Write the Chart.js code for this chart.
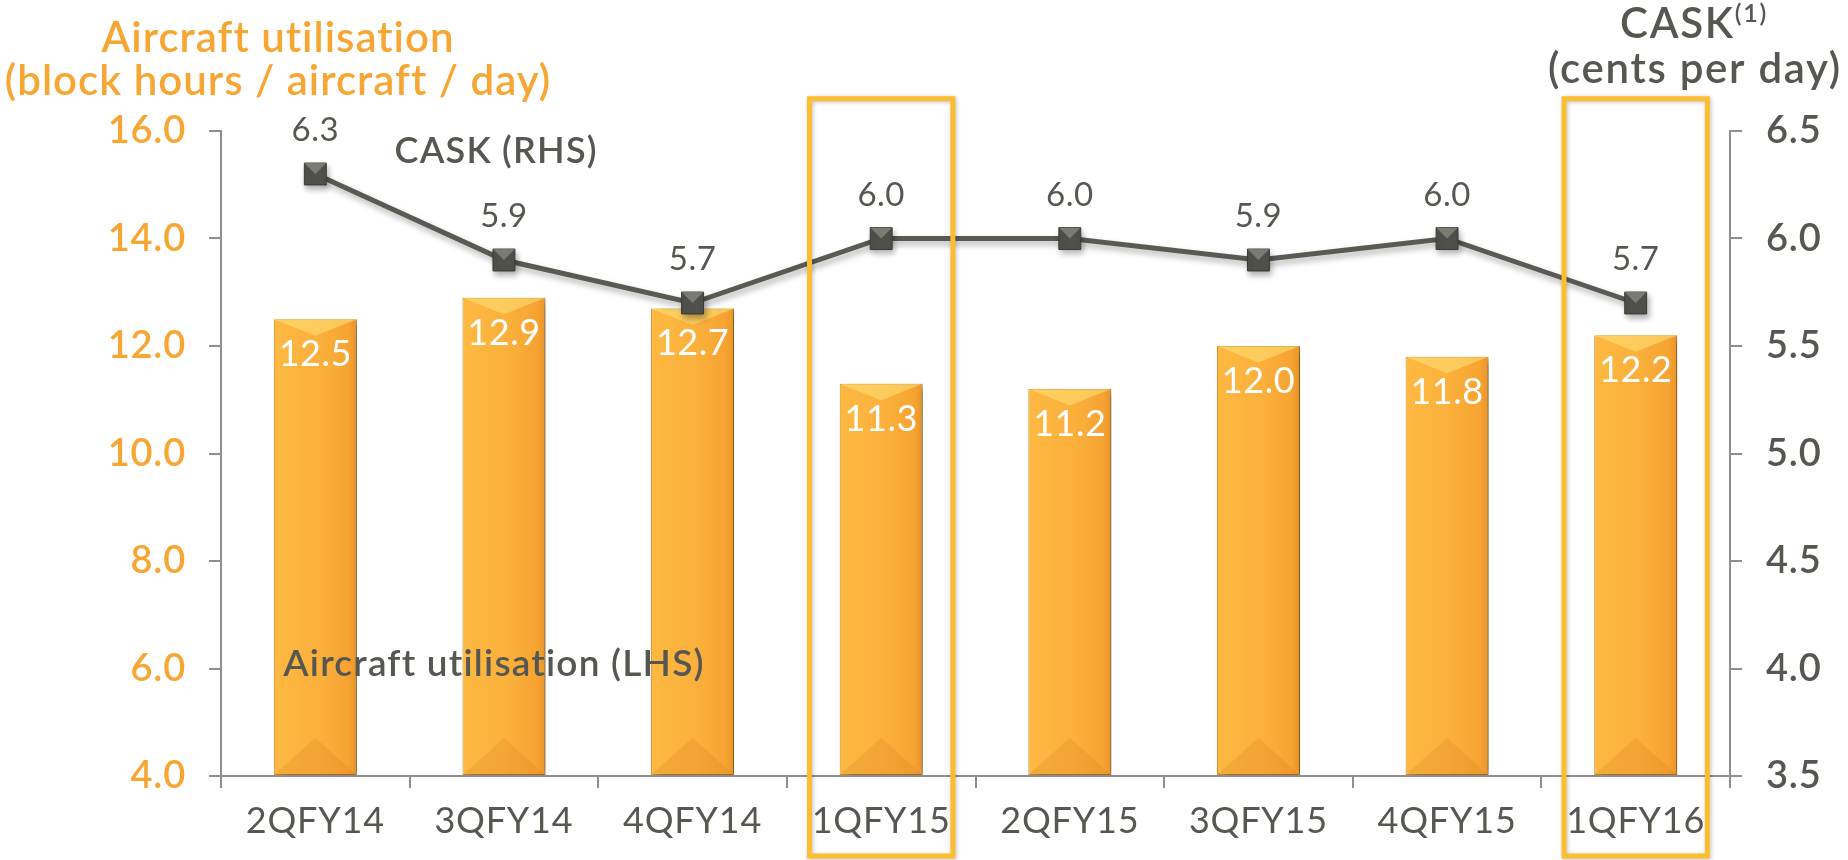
<!DOCTYPE html>
<html><head><meta charset="utf-8">
<script src="https://cdn.jsdelivr.net/npm/chart.js@4"></script>
<style>html,body{margin:0;padding:0;background:#fff;overflow:hidden}</style>
</head><body>
<canvas id="c" width="1848" height="860"></canvas>
<script>
const categories = ['2QFY14','3QFY14','4QFY14','1QFY15','2QFY15','3QFY15','4QFY15','1QFY16'];
const utilisation = [12.5, 12.9, 12.7, 11.3, 11.2, 12.0, 11.8, 12.2];
const cask = [6.3, 5.9, 5.7, 6.0, 6.0, 5.9, 6.0, 5.7];
const leftTicks = [4, 6, 8, 10, 12, 14, 16];
const rightTicks = [3.5, 4.0, 4.5, 5.0, 5.5, 6.0, 6.5];
const highlighted = ['1QFY15', '1QFY16'];
const leftTitle = ['Aircraft utilisation', '(block hours / aircraft / day)'];
const rightTitle = ['CASK', '(1)', '(cents per day)'];
const barLabel = 'Aircraft utilisation (LHS)';
const lineLabel = 'CASK (RHS)';

const ORANGE = '#F7A634';
const GREY = '#575751';
const AXIS = '#8e8e8e';
const BOX = '#FBBE30';
const FONT = 'Lato, "Open Sans", sans-serif';
const BAR_PCT = 0.44;

function barGradient(ctx) {
  const chart = ctx.chart;
  const xs = chart.scales.x;
  if (!xs || ctx.dataIndex === undefined) return '#F9AA36';
  const cx = xs.getPixelForValue(ctx.dataIndex);
  const half = (xs.width / categories.length) * BAR_PCT / 2;
  if (!isFinite(cx)) return '#F9AA36';
  const g = chart.ctx.createLinearGradient(cx - half, 0, cx + half, 0);
  g.addColorStop(0, '#FDB942');
  g.addColorStop(0.55, '#FBB03C');
  g.addColorStop(0.9, '#F6A331');
  g.addColorStop(1, '#E8952A');
  return g;
}

function setSpacing(c, v) { if ('letterSpacing' in c) c.letterSpacing = v; }

const spacingPlugin = {
  id: 'spacingPlugin',
  beforeDraw(chart) { setSpacing(chart.ctx, '0.8px'); }
};

const shadowPlugin = {
  id: 'shadowPlugin',
  beforeDatasetDraw(chart, args) {
    const c = chart.ctx;
    c.save();
    if (args.meta.type === 'bar') {
      c.shadowColor = 'rgba(0,0,0,0.45)';
      c.shadowBlur = 8;
      c.shadowOffsetX = 7;
      c.shadowOffsetY = 2;
    } else {
      c.shadowColor = 'rgba(0,0,0,0.30)';
      c.shadowBlur = 6;
      c.shadowOffsetX = 2;
      c.shadowOffsetY = 4;
    }
  },
  afterDatasetDraw(chart) { chart.ctx.restore(); }
};

const bevelPlugin = {
  id: 'bevelPlugin',
  afterDatasetDraw(chart, args) {
    const c = chart.ctx;
    const meta = args.meta;
    c.save();
    if (meta.type === 'bar') {
      meta.data.forEach(el => {
        const p = el.getProps(['x', 'y', 'base', 'width'], true);
        const l = p.x - p.width / 2, r = p.x + p.width / 2;
        c.beginPath();
        c.moveTo(l, p.y); c.lineTo(r, p.y); c.lineTo(p.x, p.y + p.width * 0.2); c.closePath();
        c.fillStyle = 'rgba(255,226,120,0.55)';
        c.fill();
        c.beginPath();
        c.moveTo(l, p.base); c.lineTo(r, p.base); c.lineTo(p.x, p.base - p.width * 0.45); c.closePath();
        c.fillStyle = 'rgba(215,125,30,0.22)';
        c.fill();
      });
    } else {
      meta.data.forEach(el => {
        const s = 11;
        c.beginPath();
        c.moveTo(el.x - s, el.y - s); c.lineTo(el.x + s, el.y - s); c.lineTo(el.x, el.y); c.closePath();
        c.fillStyle = 'rgba(160,160,150,0.55)';
        c.fill();
      });
    }
    c.restore();
  }
};

const labelPlugin = {
  id: 'labelPlugin',
  afterDatasetsDraw(chart) {
    const c = chart.ctx;
    c.save();
    setSpacing(c, '0.5px');
    c.textAlign = 'center';
    c.textBaseline = 'alphabetic';
    const barMeta = chart.getDatasetMeta(0);
    c.fillStyle = '#FFFFFF';
    c.font = '400 36px ' + FONT;
    barMeta.data.forEach((el, i) => {
      c.fillText(utilisation[i].toFixed(1), el.x, el.y + 47);
    });
    const lineMeta = chart.getDatasetMeta(1);
    c.fillStyle = GREY;
    c.font = '400 33px ' + FONT;
    lineMeta.data.forEach((el, i) => {
      c.fillText(cask[i].toFixed(1), el.x, el.y - 33);
    });
    c.restore();
  }
};

const decorPlugin = {
  id: 'decorPlugin',
  afterDraw(chart) {
    const c = chart.ctx;
    const xs = chart.scales.x, yl = chart.scales.yL, yr = chart.scales.yR;
    const cw = xs.width / categories.length;
    c.save();
    // series annotations
    c.textAlign = 'left';
    c.textBaseline = 'alphabetic';
    c.fillStyle = GREY;
    setSpacing(c, '1.2px');
    c.font = '600 36px ' + FONT;
    c.fillText(lineLabel, xs.getPixelForValue(0) + cw * 0.42, yr.getPixelForValue(6.35));
    c.font = '600 37px ' + FONT;
    c.fillText(barLabel, xs.getPixelForValue(0) - cw * 0.17, yl.getPixelForValue(5.86));
    // left axis title
    setSpacing(c, '1px');
    c.textAlign = 'center';
    c.fillStyle = ORANGE;
    c.font = '600 42px ' + FONT;
    c.fillText(leftTitle[0], 278, 52);
    c.fillText(leftTitle[1], 278, 95);
    // right axis title
    setSpacing(c, '1.7px');
    c.fillStyle = GREY;
    c.font = '600 42px ' + FONT;
    const w1 = c.measureText(rightTitle[0]).width;
    c.font = '600 25px ' + FONT;
    const w2 = c.measureText(rightTitle[1]).width;
    const cx = 1694;
    const start = cx - (w1 + w2) / 2;
    c.textAlign = 'left';
    c.font = '600 42px ' + FONT;
    c.fillText(rightTitle[0], start, 38);
    c.font = '600 25px ' + FONT;
    c.fillText(rightTitle[1], start + w1, 22);
    c.textAlign = 'center';
    c.font = '600 42px ' + FONT;
    c.fillText(rightTitle[2], cx + 1, 83);
    // highlight boxes
    c.strokeStyle = BOX;
    c.lineWidth = 5;
    c.shadowColor = 'rgba(0,0,0,0.25)';
    c.shadowBlur = 4;
    c.shadowOffsetX = 1;
    c.shadowOffsetY = 1;
    highlighted.forEach(cat => {
      const i = categories.indexOf(cat);
      const x = xs.getPixelForValue(i);
      const half = cw * 0.38;
      const top = yl.getPixelForValue(16.6);
      const bottom = chart.height - 4;
      c.strokeRect(x - half, top, half * 2, bottom - top);
    });
    c.restore();
  }
};

const gridOpts = {
  drawOnChartArea: false,
  drawTicks: true,
  tickLength: 12,
  color: AXIS,
  lineWidth: 2
};

new Chart(document.getElementById('c'), {
  data: {
    labels: categories,
    datasets: [
      {
        type: 'bar',
        label: barLabel,
        data: utilisation,
        yAxisID: 'yL',
        base: leftTicks[0],
        backgroundColor: barGradient,
        borderColor: '#D88B24',
        borderWidth: 1,
        borderSkipped: false,
        barPercentage: BAR_PCT,
        categoryPercentage: 1,
        order: 2
      },
      {
        type: 'line',
        label: lineLabel,
        data: cask,
        yAxisID: 'yR',
        borderColor: '#5A5A54',
        borderWidth: 5,
        pointStyle: 'rect',
        pointRadius: 15.5,
        pointHoverRadius: 15.5,
        pointBackgroundColor: '#51514C',
        pointBorderColor: '#3A3A36',
        pointBorderWidth: 1,
        tension: 0,
        fill: false,
        order: 1
      }
    ]
  },
  options: {
    responsive: false,
    animation: false,
    devicePixelRatio: 1,
    layout: { padding: { top: 131, left: 0, right: 0, bottom: 0 } },
    plugins: { legend: { display: false }, tooltip: { enabled: false }, title: { display: false } },
    scales: {
      x: {
        type: 'category',
        offset: true,
        grid: Object.assign({}, gridOpts, { offset: true }),
        border: { display: true, color: AXIS, width: 2 },
        ticks: { color: GREY, font: { family: FONT, size: 36, weight: '400' }, padding: 12, maxRotation: 0, autoSkip: false },
        afterFit: s => { s.height = 84; }
      },
      yL: {
        type: 'linear',
        position: 'left',
        min: leftTicks[0],
        max: leftTicks[leftTicks.length - 1],
        afterBuildTicks: s => { s.ticks = leftTicks.map(v => ({ value: v })); },
        grid: gridOpts,
        border: { display: true, color: AXIS, width: 2 },
        ticks: { color: ORANGE, font: { family: FONT, size: 38, weight: '600' }, padding: 23, callback: v => Number(v).toFixed(1) },
        afterFit: s => { s.width = 221; }
      },
      yR: {
        type: 'linear',
        position: 'right',
        min: rightTicks[0],
        max: rightTicks[rightTicks.length - 1],
        afterBuildTicks: s => { s.ticks = rightTicks.map(v => ({ value: v })); },
        grid: gridOpts,
        border: { display: true, color: AXIS, width: 2 },
        ticks: { color: GREY, font: { family: FONT, size: 38, weight: '600' }, padding: 24, callback: v => Number(v).toFixed(1) },
        afterFit: s => { s.width = 118; }
      }
    }
  },
  plugins: [spacingPlugin, shadowPlugin, bevelPlugin, labelPlugin, decorPlugin]
});
</script>
</body></html>
